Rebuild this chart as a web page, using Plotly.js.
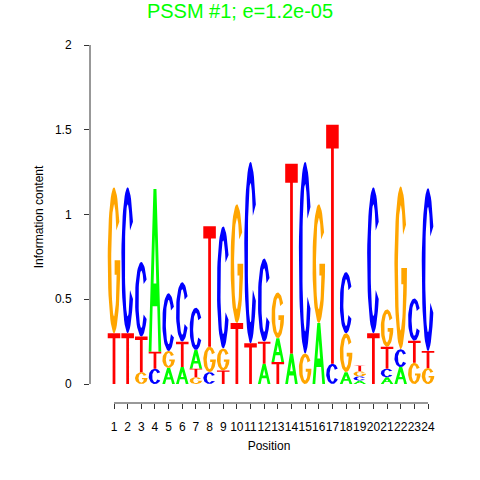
<!DOCTYPE html>
<html><head><meta charset="utf-8">
<script src="https://cdn.plot.ly/plotly-3.0.1.min.js"></script>
<style>html,body{margin:0;padding:0;background:#fff}#chart{width:480px;height:480px}</style>
</head><body><div id="chart"></div>
<script>
// ---- data (information content per letter, per position) ----
const positions = [1,2,3,4,5,6,7,8,9,10,11,12,13,14,15,16,17,18,19,20,21,22,23,24];
const tickLabels = positions.map(String);
const A = [0,0,0,0.96,0.095,0.10,0.11,0,0,0,0,0.12,0.14,0.18,0,0.36,0,0.07,0.02,0,0.04,0.10,0,0];
const C = [0,0.86,0.44,0.09,0.34,0.35,0.25,0.07,0.72,0,1.07,0.49,0,0,1.13,0,0.12,0.36,0.025,0.86,0.05,0.105,0.25,0.96];
const G = [0.86,0,0.07,0,0.10,0,0.04,0.15,0.13,0.70,0,0,0.27,0,0.18,0.70,0,0.23,0.03,0,0.22,0.96,0.125,0.095];
const T = [0.30,0.30,0.21,0.10,0,0.15,0.05,0.71,0.08,0.36,0.24,0.13,0.13,1.12,0,0,1.41,0,0.035,0.30,0.13,0,0.13,0.10];
const yTicks = [0,0.5,1,1.5,2];
const yTickLabels = ['0','0.5','1','1.5','2'];
const titleText = 'PSSM #1; e=1.2e-05';

// ---- styles ----
const colors = {A:'#00FF00', C:'#0000FF', G:'#FFA500', T:'#FF0000'};
const FONT = 'Liberation Sans, Arial, Helvetica, sans-serif';
const W = 0.92;

// ---- glyph outlines in a unit box ----
function ell(cx,cy,rx,ry,a0,a1,n){const p=[];for(let i=0;i<=n;i++){const t=(a0+(a1-a0)*i/n)*Math.PI/180;p.push([cx+rx*Math.cos(t),cy+ry*Math.sin(t)]);}return p;}
const ORX=0.5, ORY=0.5, IRX=0.22, IRY=0.385;
function glyphC(){
  return {fill:[ell(0.5,0.5,ORX,ORY,32,328,48).concat(ell(0.5,0.5,IRX,IRY,328,32,48))], holes:[]};
}
function glyphG(){
  const outer = ell(0.5,0.5,ORX,ORY,32,360,52);
  const inner = ell(0.5,0.5,IRX,IRY,340,32,48);
  const bar = [[0.55,0.5],[0.55,0.40],[inner[0][0],0.40]];
  return {fill:[outer.concat(bar).concat(inner)], holes:[]};
}
function glyphA(){
  return {fill:[[[0,0],[0.38,1],[0.62,1],[1,0],[0.78,0],[0.685,0.28],[0.315,0.28],[0.22,0]]],
          holes:[[[0.39,0.42],[0.5,0.72],[0.61,0.42]]]};
}
function glyphT(){
  return {fill:[[[0.39,0],[0.61,0],[0.61,0.9],[1,0.9],[1,1],[0,1],[0,0.9],[0.39,0.9]]], holes:[]};
}
const glyphs = {A:glyphA(), C:glyphC(), G:glyphG(), T:glyphT()};
const values = {A:A, C:C, G:G, T:T};
const letters = ['A','C','G','T'];

const polys = {A:{x:[],y:[]},C:{x:[],y:[]},G:{x:[],y:[]},T:{x:[],y:[]}};
const holes = {x:[],y:[]};
function addPoly(target, pts, px, y0, h){
  pts.forEach(p=>{target.x.push(px - W/2 + p[0]*W); target.y.push(y0 + p[1]*h);});
  target.x.push(null); target.y.push(null);
}
positions.forEach((p,i)=>{
  const stack = letters.map(l=>({l:l,h:values[l][i]})).filter(d=>d.h>0).sort((a,b)=>a.h-b.h);
  let y0 = 0;
  stack.forEach(d=>{
    const g = glyphs[d.l];
    g.fill.forEach(pts=>addPoly(polys[d.l], pts, p, y0, d.h));
    g.holes.forEach(pts=>addPoly(holes, pts, p, y0, d.h));
    y0 += d.h;
  });
});

const traces = letters.map(l=>({
  type:'scatter', mode:'lines', x:polys[l].x, y:polys[l].y, fill:'toself',
  fillcolor:colors[l], line:{width:0,color:colors[l]}, hoverinfo:'skip', showlegend:false, connectgaps:false
}));
traces.push({type:'scatter', mode:'lines', x:holes.x, y:holes.y, fill:'toself',
  fillcolor:'#FFFFFF', line:{width:0,color:'#FFFFFF'}, hoverinfo:'skip', showlegend:false, connectgaps:false});

const axisColor = '#333333';
const layout = {
  width:480, height:480,
  paper_bgcolor:'#fff', plot_bgcolor:'#fff',
  margin:{l:90, r:32, t:31, b:77, pad:0},
  showlegend:false,
  font:{family:FONT, size:12, color:'#000'},
  title:{text:titleText, font:{family:FONT, size:20, color:'#00FF00'}, x:0.5, xref:'container', xanchor:'center', y:0.977, yref:'container', yanchor:'middle'},
  xaxis:{range:[-0.758, 25.465], tickmode:'array', tickvals:positions, ticktext:tickLabels, tickangle:0,
    ticks:'outside', ticklen:5, tickwidth:1, tickcolor:axisColor, showgrid:false, zeroline:false, showline:false,
    tickfont:{family:FONT, size:12, color:'#000'}, ticklabelstandoff:8, fixedrange:true, automargin:false,
    title:{text:'Position', font:{family:FONT, size:12, color:'#000'}, standoff:8}},
  yaxis:{range:[-0.112, 2.0826], tickmode:'array', tickvals:yTicks, ticktext:yTickLabels,
    ticks:'outside', ticklen:5, tickwidth:1, tickcolor:axisColor, showgrid:false, zeroline:false, showline:false,
    tickfont:{family:FONT, size:12, color:'#000'}, ticklabelstandoff:10, fixedrange:true, automargin:false,
    title:{text:'Information content', font:{family:FONT, size:12, color:'#000'}, standoff:8}},
  shapes:[
    {type:'line', xref:'x', yref:'paper', x0:positions[0], x1:positions[positions.length-1], y0:0, y1:0, line:{color:axisColor, width:1}},
    {type:'line', xref:'paper', yref:'y', x0:0, x1:0, y0:yTicks[0], y1:yTicks[yTicks.length-1], line:{color:axisColor, width:1}}
  ]
};
Plotly.newPlot('chart', traces, layout, {staticPlot:true, displayModeBar:false});
</script></body></html>
